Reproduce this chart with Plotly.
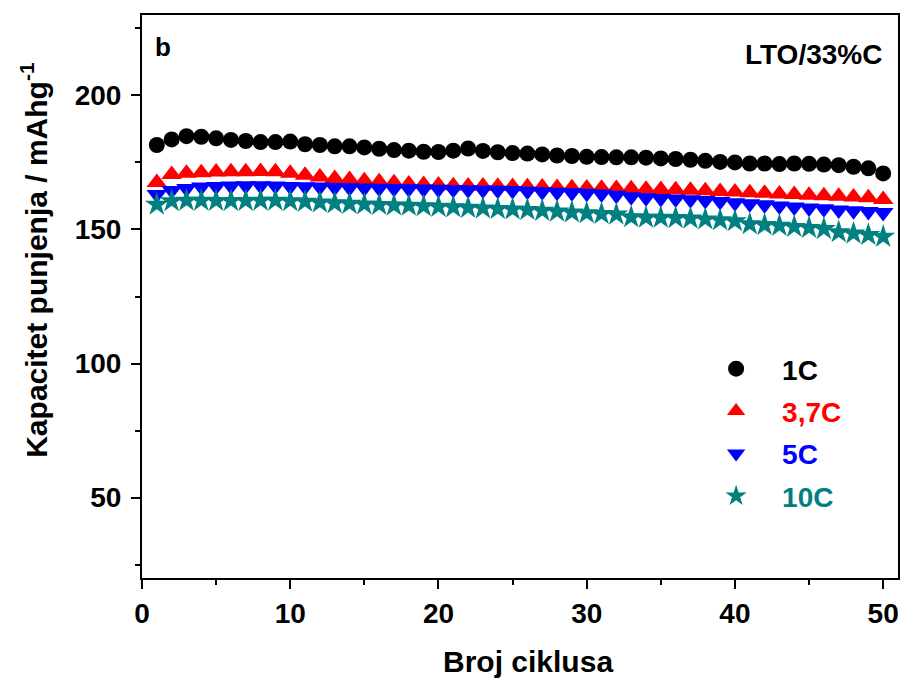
import plotly.graph_objects as go

cycles = list(range(1, 51))

cap_1C = [181.5, 183.6, 184.8, 184.6, 184.0, 183.4, 183.0, 182.6, 182.6, 182.8,
          181.8, 181.5, 181.0, 181.0, 180.6, 180.1, 179.6, 179.4, 179.0, 178.9,
          179.4, 180.2, 179.3, 178.8, 178.5, 178.3, 178.0, 177.6, 177.4, 177.1,
          177.0, 176.9, 176.9, 176.8, 176.5, 176.3, 176.0, 175.6, 175.2, 175.0,
          174.6, 174.6, 174.4, 174.6, 174.5, 174.2, 174.0, 173.4, 172.8, 170.9]
cap_37C = [167.5, 170.5, 171.0, 171.2, 171.4, 171.5, 171.5, 171.6, 171.5, 171.0,
           170.2, 169.6, 169.0, 168.6, 168.2, 167.8, 167.4, 167.0, 166.8, 166.6,
           166.3, 166.2, 166.2, 166.1, 166.0, 165.9, 165.8, 165.7, 165.6, 165.5,
           165.4, 165.3, 165.2, 165.0, 164.9, 164.8, 164.6, 164.4, 164.2, 164.0,
           163.7, 163.5, 163.2, 163.0, 162.8, 162.6, 162.4, 162.1, 161.8, 161.2]
cap_5C = [163.0, 164.5, 165.3, 165.8, 166.0, 166.2, 166.3, 166.3, 166.2, 166.0,
          165.9, 165.8, 165.7, 165.6, 165.5, 165.4, 165.3, 165.2, 165.1, 165.0,
          164.9, 164.8, 164.7, 164.6, 164.5, 164.3, 164.1, 163.9, 163.7, 163.5,
          163.2, 162.8, 162.2, 161.8, 161.6, 161.4, 161.1, 160.8, 160.4, 160.0,
          159.6, 159.2, 158.8, 158.4, 158.0, 157.7, 157.3, 157.0, 156.7, 156.3]
cap_10C = [159.3, 160.6, 160.8, 160.8, 160.7, 160.7, 160.7, 160.8, 160.8, 160.6,
           160.4, 160.1, 159.8, 159.6, 159.4, 159.2, 159.0, 158.9, 158.7, 158.5,
           158.3, 158.1, 157.9, 157.7, 157.5, 157.3, 157.0, 156.7, 156.4, 156.1,
           155.8, 155.6, 154.6, 154.4, 154.4, 154.3, 154.1, 153.8, 153.5, 153.1,
           152.0, 151.7, 151.4, 151.0, 150.6, 150.2, 149.0, 148.5, 148.0, 147.3]

series = [
    ("1C", cap_1C, "circle", "#000000", 16),
    ("3,7C", cap_37C, "triangle-up", "#ff0000", 18),
    ("5C", cap_5C, "triangle-down", "#0000ff", 18),
    ("10C", cap_10C, "star", "#008080", 18),
]

fig = go.Figure()
for i, (name, vals, sym, col, sz) in enumerate(series):
    fig.add_trace(go.Scatter(
        x=cycles, y=vals, mode="markers", legendgroup=f"g{i}",
        name=f"<span style='color:{col}'>{name}</span>",
        marker=dict(symbol=sym, color=col, size=sz, line=dict(width=0)),
    ))

font_fam = "Liberation Sans, Arial, sans-serif"
axis_common = dict(
    showline=True, linecolor="black", linewidth=2, mirror=True,
    ticks="outside", ticklen=9, tickwidth=2, tickcolor="black",
    showgrid=False, zeroline=False, automargin=False,
    tickfont=dict(family=font_fam, size=28, color="black", weight="bold"),
)
fig.update_xaxes(range=[0, 51], dtick=10, tick0=0,
                 minor=dict(dtick=5, ticks="outside", ticklen=5, tickwidth=2, tickcolor="black"),
                 **axis_common)
fig.update_yaxes(range=[20, 230], dtick=50, tick0=0, ticklabelstandoff=4,
                 minor=dict(dtick=25, ticks="outside", ticklen=5, tickwidth=2, tickcolor="black"),
                 **axis_common)

# axis titles
fig.add_annotation(text="<b>Broj ciklusa</b>", xref="paper", yref="paper", x=0.5106, y=-0.149,
                   xanchor="center", yanchor="middle", showarrow=False,
                   font=dict(family=font_fam, size=30, color="black"))
fig.add_annotation(text="<b>Kapacitet punjenja / mAhg<sup>-1</sup></b>", xref="paper", yref="paper",
                   x=-0.143, y=0.565, xanchor="center", yanchor="middle", showarrow=False,
                   textangle=-90, font=dict(family=font_fam, size=30, color="black"))

fig.add_annotation(text="<b>b</b>", xref="paper", yref="paper", x=0.015, y=0.944,
                   xanchor="left", yanchor="middle", showarrow=False,
                   font=dict(family=font_fam, size=26, color="black"))
fig.add_annotation(text="<b>LTO/33%C</b>", xref="paper", yref="paper", x=0.982, y=0.929,
                   xanchor="right", yanchor="middle", showarrow=False,
                   font=dict(family=font_fam, size=28, color="black"))

fig.update_layout(
    width=902, height=680,
    margin=dict(l=142, r=4, t=15, b=102),
    paper_bgcolor="white", plot_bgcolor="white",
    showlegend=True,
    legend=dict(x=0.725, y=0.4156, xanchor="left", yanchor="top", itemwidth=82,
                bgcolor="rgba(0,0,0,0)", tracegroupgap=3, traceorder="grouped",
                font=dict(family=font_fam, size=28, color="black", weight="bold")),
)

fig.write_html("out.html", config={"displayModeBar": False},
               post_script="document.body.style.margin='0';document.body.style.overflow='hidden';")
